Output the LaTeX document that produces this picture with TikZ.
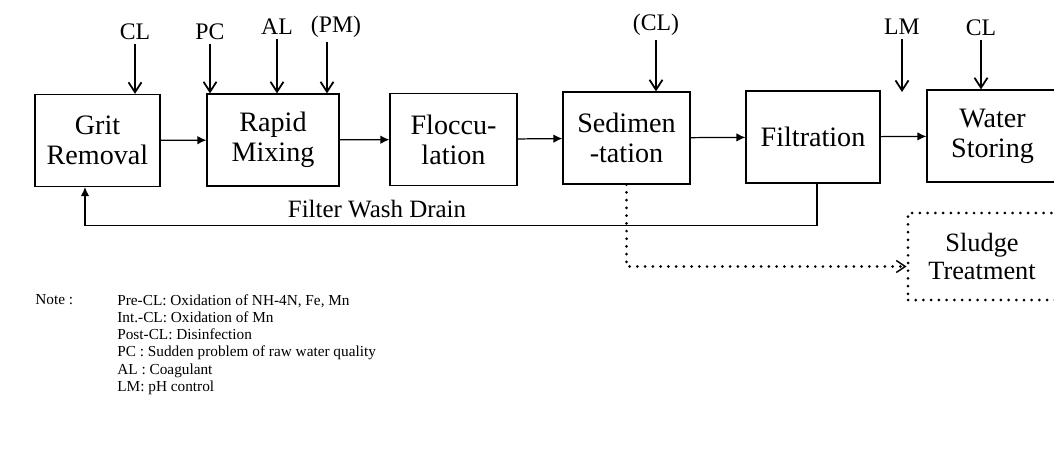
\documentclass[tikz,border=0pt]{standalone}
\usepackage{fontspec}
\setmainfont{Liberation Serif}
\usetikzlibrary{arrows.meta,positioning}

\begin{document}
\begin{tikzpicture}[
  x=0.2mm,y=-0.2mm,
  unit/.style={draw=black,line width=.7pt,minimum height=18.4mm,
    align=center,inner sep=2pt,font=\fontsize{16}{17}\selectfont},
  dose/.style={font=\fontsize{13.5}{14}\selectfont,inner sep=2pt},
  feed/.style={-{Straight Barb[length=2mm,width=2.6mm,line width=1pt]},line width=1pt},
  flow/.style={-{Latex[length=1.8mm,width=1.7mm]},line width=.7pt},
  dotline/.style={line width=1.7pt,dash pattern=on 0pt off 4.4pt,line cap=round},
  sludgeflow/.style={dotline,-{Straight Barb[length=1.8mm,width=2.4mm,line width=.8pt]}},
  wash/.style={font=\fontsize{14.2}{15}\selectfont,inner sep=1pt},
  notetext/.style={font=\fontsize{8.7}{9.8}\selectfont,align=left,inner sep=0pt}
]
\useasboundingbox (0,0) rectangle (1054,455);
% treatment train
\node[unit,minimum width=25mm] (grit) at (97.5,140.5) {Grit\\Removal};
\node[unit,minimum width=26.4mm] (rapid) at (273,140) {Rapid\\Mixing};
\node[unit,minimum width=25.4mm] (floc) at (453.5,139.5) {Floccu-\\lation};
\node[unit,minimum width=25.4mm] (sed) at (626.5,138) {Sedimen\\-tation};
\node[unit,minimum width=26.8mm] (filt) at (813,137) {Filtration};
\node[unit,minimum width=26.2mm] (store) at (992.5,136) {Water\\Storing};
\node[unit,dotline,minimum width=29.6mm,minimum height=17.4mm,
  font=\fontsize{15}{16}\selectfont] (sludge) at (982,256.5) {Sludge\\Treatment};
\draw[flow] (grit)--(rapid);\draw[flow] (rapid)--(floc);
\draw[flow] (floc)--(sed);\draw[flow] (sed)--(filt);
\draw[flow] (filt)--(store);
% chemical dosing points
\node[dose] (cla) at (135,32) {CL};
\node[dose] (pc) at (210,32) {PC};
\node[dose] (al) at (277,27) {AL};
\node[dose] (pm) at (336,27) {(PM)};
\node[dose] (clb) at (656,25) {(CL)};
\node[dose] (lm) at (902,27) {LM};
\node[dose] (clc) at (981,28) {CL};
\coordinate (lmend) at (902,92);
\draw[feed] (cla.south)--(cla.south |- grit.north);
\draw[feed] (pc.south)--(pc.south |- rapid.north);
\draw[feed] (al.south)--(al.south |- rapid.north);
\draw[feed] ([xshift=-1.8mm]pm.south)--([xshift=-1.8mm]pm.south |- rapid.north);
\draw[feed] (clb.south)--(clb.south |- sed.north);
\draw[feed] (lm.south)--(lmend);
\draw[feed] (clc.south)--(clc.south |- store.north);
% return and sludge lines
\draw[flow] ([xshift=.8mm]filt.south)--++(0,42)-|([xshift=-2.5mm]grit.south);
\node[wash] (drain) at (377,209) {Filter Wash Drain};
\draw[sludgeflow] (sed.south)|-([yshift=-2mm]sludge.west);
% legend
\node[notetext,anchor=north west] (note) at (35,294) {Note :};
\node[notetext,anchor=north west] (notes) at (117,294) {Pre-CL: Oxidation of NH-4N, Fe, Mn\\
  Int.-CL: Oxidation of Mn\\
  Post-CL: Disinfection\\
  PC : Sudden problem of raw water quality\\
  AL : Coagulant\\
  LM: pH control};
\end{tikzpicture}
\end{document}
